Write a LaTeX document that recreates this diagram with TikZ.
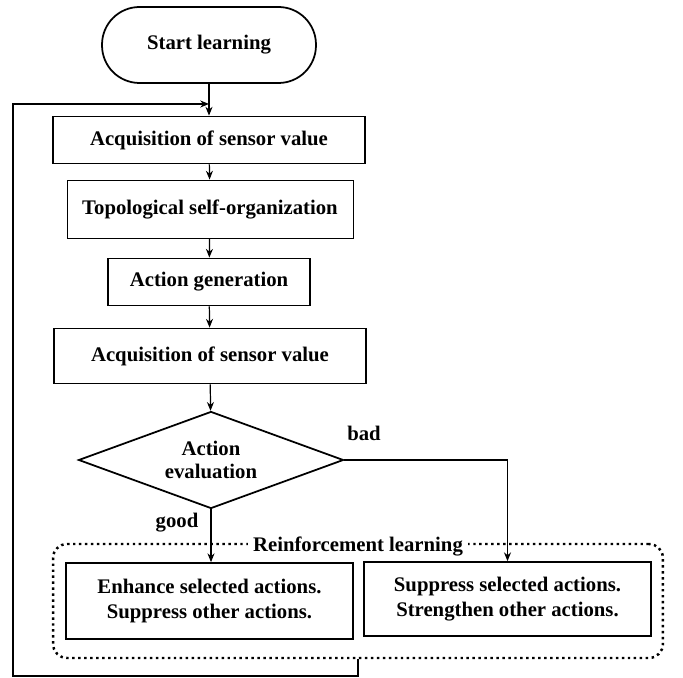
\documentclass[tikz,border=0pt]{standalone}
\usepackage{fontspec}
\setmainfont{Liberation Serif}
\usepackage{tikz}
\usetikzlibrary{arrows.meta,positioning,shapes.geometric}
\tikzset{
  box/.style={draw,line width=1pt,align=center,inner sep=2pt},
  thinbox/.style={draw,line width=0.5pt,align=center,inner sep=2pt},
  flow/.style={line width=0.7pt,-{Stealth[length=5pt,width=4pt]}},
}

\begin{document}
\begin{tikzpicture}[x=0.02cm,y=-0.02cm,font=\fontsize{11.8}{14}\selectfont\bfseries]
  \useasboundingbox (0,0) rectangle (683,678);
  % main chain
  \node[box,rounded corners=0.75cm,minimum width=4.28cm,minimum height=1.52cm] (start) at (209,45) {Start learning};
  \node[box,minimum width=6.24cm,minimum height=0.94cm] (acq1) at (209,140) {Acquisition of sensor value};
  \node[thinbox,minimum width=5.72cm,minimum height=1.16cm] (topo) at (210,209) {Topological self-organization};
  \node[box,minimum width=4.04cm,minimum height=0.94cm] (gen) at (209,282) {Action generation};
  \node[box,minimum width=6.24cm,minimum height=1.1cm] (acq2) at (210,356) {Acquisition of sensor value};
  \node[draw,line width=1pt,diamond,aspect=2.73,inner sep=0pt,minimum width=5.3cm,minimum height=1.94cm,align=center] (eval) at (211,460) {Action\\[-1pt]evaluation};
  % reinforcement learning group
  \node[draw,dotted,line width=1.4pt,rounded corners=0.28cm,minimum width=12.2cm,minimum height=2.28cm] (rl) at (358,601) {};
  \node[fill=white,inner sep=3pt] (rllabel) at (358,546) {Reinforcement learning};
  \node[box,minimum width=5.74cm,minimum height=1.52cm] (enh) at (209.5,601) {Enhance selected actions.\\Suppress other actions.};
  \node[box,minimum width=5.74cm,minimum height=1.48cm] (sup) at (507.5,599) {Suppress selected actions.\\Strengthen other actions.};
  \node (good) at (177,523) {good};
  \node (bad) at (364,433) {bad};
  % connectors
  \coordinate (loopin) at (209,104);
  \coordinate (loopcorner) at (13,676);
  \draw[flow] (start) -- (acq1);
  \draw[flow] (acq1) -- (topo);
  \draw[flow] (topo) -- (gen);
  \draw[flow] (gen) -- (acq2);
  \draw[flow] (acq2) -- (eval);
  \draw[flow] (eval.south) -- (enh.north -| eval.south);
  \draw[flow] (eval.east) -| (sup.north);
  \draw[flow] (rl.south) |- (loopcorner) |- (loopin);
\end{tikzpicture}
\end{document}
